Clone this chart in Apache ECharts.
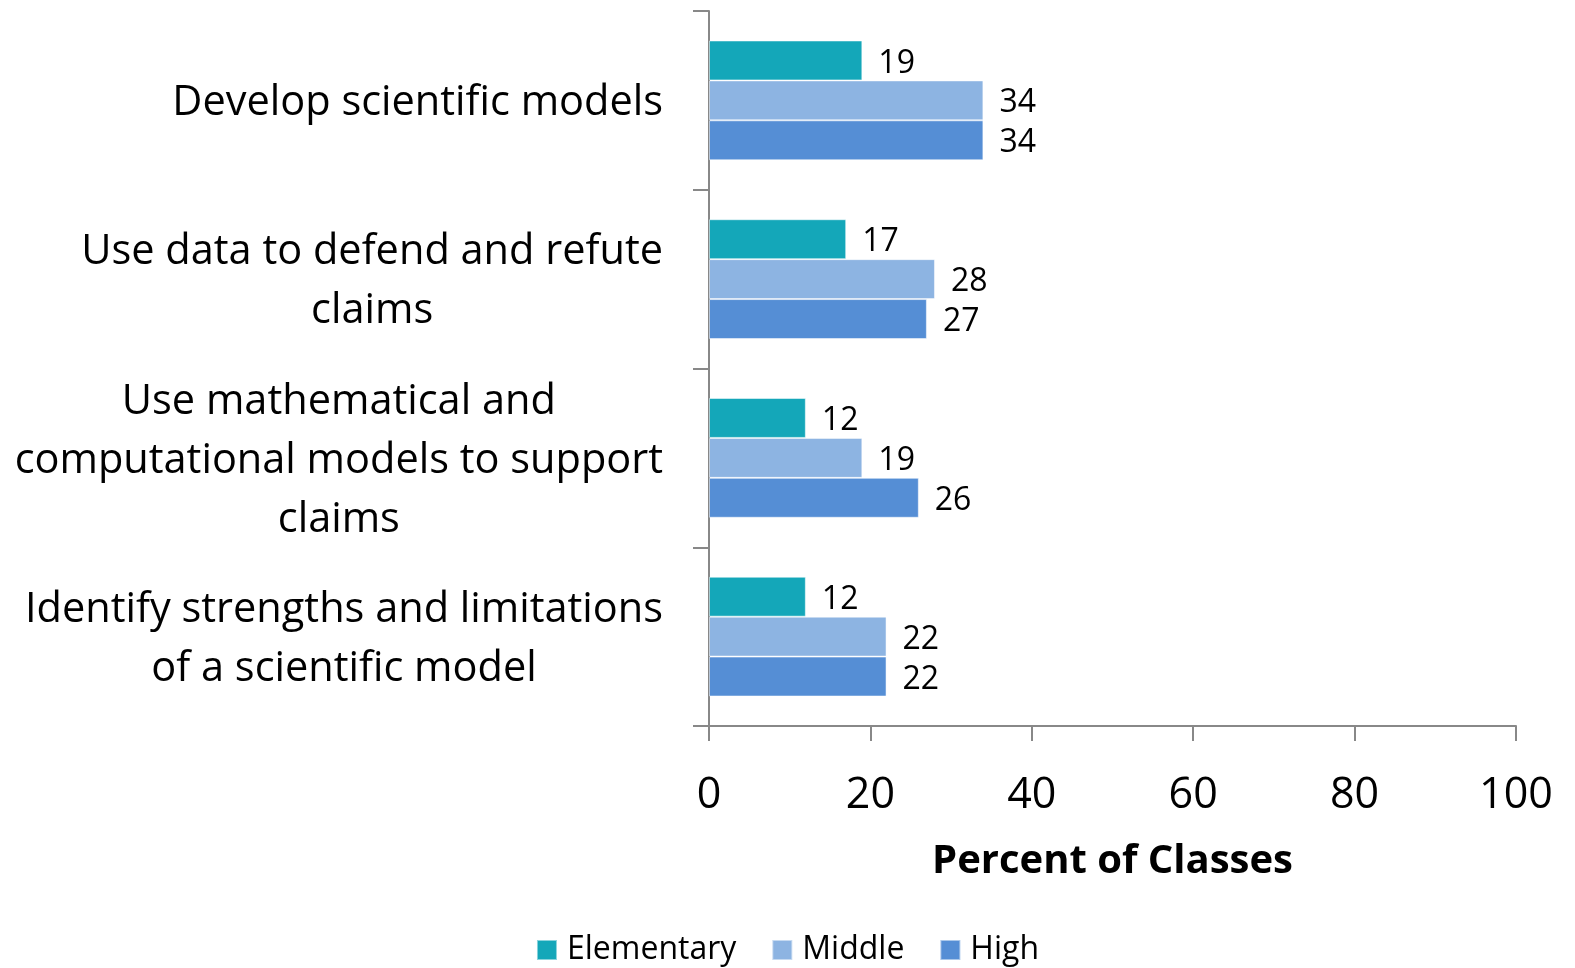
<!DOCTYPE html>
<html>
<head>
<meta charset="utf-8">
<script src="https://cdn.jsdelivr.net/npm/echarts@6/dist/echarts.min.js"></script>
<style>
  html, body { margin: 0; padding: 0; background: #fff; }
  #chart { width: 1575px; height: 968px; }
</style>
</head>
<body>
<div id="chart"></div>
<script>
const categories = [
  'Develop scientific models',
  'Use data to defend and refute\nclaims',
  'Use mathematical and\ncomputational models to support\nclaims',
  'Identify strengths and limitations\nof a scientific model'
]
const elementary = [19, 17, 12, 12]
const middle = [34, 28, 19, 22]
const high = [34, 27, 26, 22]
const xTicks = [0, 20, 40, 60, 80, 100]

const font = '"Open Sans", sans-serif'
const c = echarts.init(document.getElementById('chart'))

const barLabel = { show: true, position: 'right', distance: 16, offset: [0, 3], color: '#000', fontSize: 32, fontFamily: font }

c.setOption({
  animation: false,
  grid: { left: 709, right: 59, top: 11, bottom: 242, containLabel: false },
  legend: {
    bottom: -3, left: 'center',
    itemWidth: 20, itemHeight: 20, itemGap: 35,
    icon: 'rect',
    textStyle: { fontSize: 32, fontFamily: font, color: '#000', padding: [0, 0, 0, 5] },
    data: ['Elementary', 'Middle', 'High']
  },
  xAxis: {
    type: 'value', min: 0, max: 100, interval: 20,
    name: 'Percent of Classes', nameLocation: 'middle', nameGap: 116,
    nameTextStyle: { fontSize: 40, fontWeight: 'bold', fontFamily: font, color: '#000' },
    axisLine: { show: true, lineStyle: { color: '#888', width: 2 } },
    axisTick: { show: true, length: 15, lineStyle: { color: '#888', width: 2 } },
    splitLine: { show: false },
    axisLabel: {
      margin: 48, fontSize: 43, fontFamily: font, color: '#000',
      formatter: v => xTicks.includes(v) ? String(v) : ''
    }
  },
  yAxis: {
    type: 'category', inverse: true, data: categories,
    axisLine: { show: true, lineStyle: { color: '#888', width: 2 } },
    axisTick: { show: true, length: 16, lineStyle: { color: '#888', width: 2 } },
    axisLabel: {
      margin: 46, align: 'right', color: '#000', padding: [6, 0, 0, 0],
      formatter: v => v.split('\n').map(l => '{c|' + l + '}').join('\n'),
      rich: { c: { align: 'center', fontSize: 41.5, lineHeight: 59, fontFamily: font, color: '#000' } }
    }
  },
  series: [
    { name: 'Elementary', type: 'bar', data: elementary, barGap: '0%', barCategoryGap: '33%',
      itemStyle: { color: '#14A7B9', borderColor: 'rgba(255,255,255,0.5)', borderWidth: 1 }, label: barLabel },
    { name: 'Middle', type: 'bar', data: middle,
      itemStyle: { color: '#8DB4E2', borderColor: 'rgba(255,255,255,0.5)', borderWidth: 1 }, label: barLabel },
    { name: 'High', type: 'bar', data: high,
      itemStyle: { color: '#558ED5', borderColor: 'rgba(255,255,255,0.5)', borderWidth: 1 }, label: barLabel }
  ]
})
window.addEventListener('resize', () => c.resize())
</script>
</body>
</html>
